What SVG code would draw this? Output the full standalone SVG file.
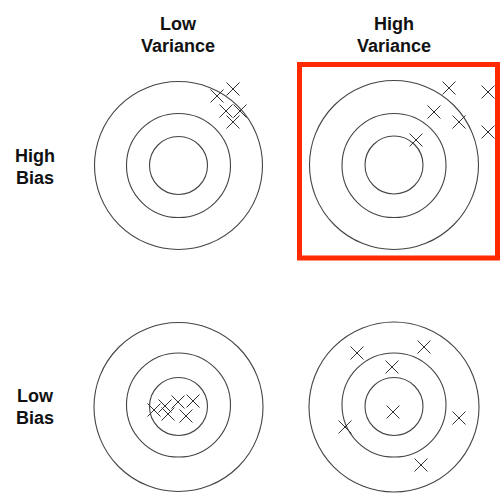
<svg xmlns="http://www.w3.org/2000/svg" width="504" height="500" viewBox="0 0 504 500">
<defs>
<style>
.lbl{font-family:"Liberation Sans",Arial,sans-serif;font-weight:bold;font-size:18px;fill:#111;text-anchor:middle}
.ring{fill:none;stroke:#444;stroke-width:1.1}
.x{fill:none;stroke:#333;stroke-width:1}
.hl{fill:none;stroke:#ff2a00;stroke-width:5}
</style>
<path id="xm" class="x" d="M-6.5,-6.5L6.5,6.5M6.5,-6.5L-6.5,6.5"/>
</defs>
<rect width="504" height="500" fill="#fff"/>
<g id="col-low-variance"><text class="lbl" x="178" y="30">Low</text><text class="lbl" x="178" y="52">Variance</text></g>
<g id="col-high-variance"><text class="lbl" x="394" y="30">High</text><text class="lbl" x="394" y="52">Variance</text></g>
<g id="row-high-bias"><text class="lbl" x="35" y="162">High</text><text class="lbl" x="35" y="184">Bias</text></g>
<g id="row-low-bias"><text class="lbl" x="35" y="402">Low</text><text class="lbl" x="35" y="424">Bias</text></g>
<g id="target-hb-lv">
<circle class="ring" cx="178.5" cy="165.5" r="84"/><circle class="ring" cx="178.5" cy="165.5" r="52"/><circle class="ring" cx="178.5" cy="165.5" r="29"/>
<use href="#xm" x="233" y="89"/><use href="#xm" x="217" y="96"/><use href="#xm" x="226" y="111"/><use href="#xm" x="240" y="111"/><use href="#xm" x="233" y="122"/>
</g>
<g id="target-hb-hv">
<rect class="hl" x="299.5" y="64.5" width="198" height="193.5"/>
<circle class="ring" cx="394" cy="165" r="84.5"/><circle class="ring" cx="394" cy="165.5" r="52"/><circle class="ring" cx="394" cy="165" r="29"/>
<use href="#xm" x="449" y="88"/><use href="#xm" x="488" y="92"/><use href="#xm" x="434" y="112"/><use href="#xm" x="459" y="122"/><use href="#xm" x="488" y="132"/><use href="#xm" x="416" y="140"/>
</g>
<g id="target-lb-lv">
<circle class="ring" cx="178.5" cy="407" r="84.5"/><circle class="ring" cx="178.5" cy="405" r="52"/><circle class="ring" cx="178.5" cy="406.5" r="29"/>
<use href="#xm" x="154" y="410"/><use href="#xm" x="165" y="406"/><use href="#xm" x="178" y="402"/><use href="#xm" x="193" y="401"/><use href="#xm" x="168" y="414"/><use href="#xm" x="186" y="416"/>
</g>
<g id="target-lb-hv">
<circle class="ring" cx="394" cy="407" r="85"/><circle class="ring" cx="394" cy="405" r="52"/><circle class="ring" cx="394" cy="406.5" r="29"/>
<use href="#xm" x="357" y="353"/><use href="#xm" x="424" y="347"/><use href="#xm" x="392" y="367"/><use href="#xm" x="393" y="412"/><use href="#xm" x="345" y="427"/><use href="#xm" x="459" y="418"/><use href="#xm" x="421" y="465"/>
</g>
<g id="connectors"/>
</svg>
